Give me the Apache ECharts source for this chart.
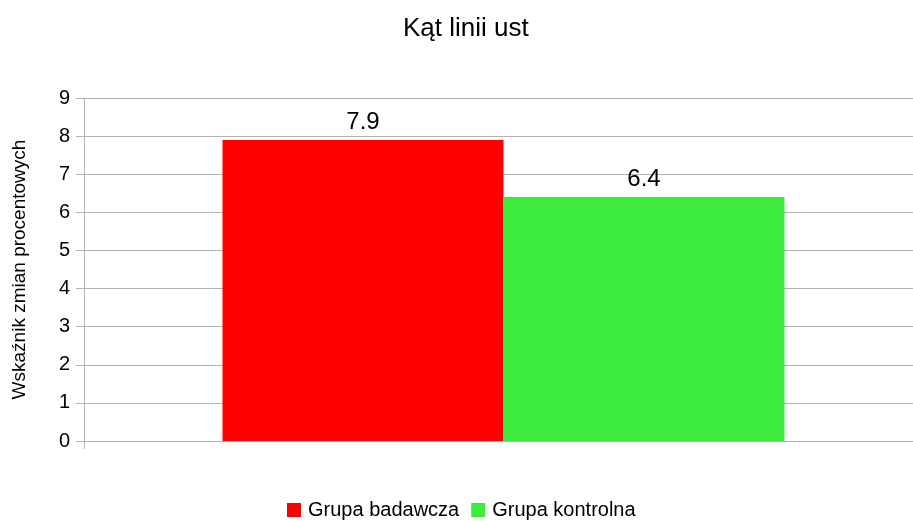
<!DOCTYPE html>
<html>
<head>
<meta charset="utf-8">
<script src="https://cdn.jsdelivr.net/npm/echarts@6/dist/echarts.min.js"></script>
<style>
html, body { margin: 0; padding: 0; background: #fff; }
#chart { width: 913px; height: 521px; }
</style>
</head>
<body>
<div id="chart"></div>
<script>
// dane wykresu
var categories = [''];
var seriesNames = ['Grupa badawcza', 'Grupa kontrolna'];
var badawcza = [7.9];
var kontrolna = [6.4];
var colors = ['#ff0000', '#3deb3d'];

var font = 'Liberation Sans, Arial, sans-serif';

var mychart = echarts.init(document.getElementById('chart'));

var option = {
    backgroundColor: '#ffffff',
    animation: false,
    title: {
        text: 'Kąt linii ust',
        left: 398,
        top: 11,
        textStyle: { fontFamily: font, fontSize: 26, fontWeight: 'normal', color: '#000' }
    },
    grid: { left: 84, right: -10, top: 98, bottom: 80, outerBoundsMode: 'none', containLabel: false },
    legend: {
        data: seriesNames,
        top: 500,
        left: 287,
        padding: 0,
        itemWidth: 14,
        itemHeight: 14,
        itemGap: 12,
        icon: 'rect',
        textStyle: { fontFamily: font, fontSize: 20, color: '#000', padding: [0, 0, 0, 2] }
    },
    xAxis: {
        type: 'category',
        data: categories,
        axisLine: { lineStyle: { color: '#b3b3b3' } },
        axisTick: { show: true, length: 8, lineStyle: { color: '#b3b3b3' } },
        axisLabel: { show: false }
    },
    yAxis: {
        type: 'value',
        min: 0,
        max: 9,
        interval: 1,
        name: 'Wskaźnik zmian procentowych',
        nameLocation: 'middle',
        nameGap: 55,
        nameTextStyle: { fontFamily: font, fontSize: 19, color: '#000' },
        axisLine: { show: true, lineStyle: { color: '#b3b3b3' } },
        axisTick: { show: true, length: 8, lineStyle: { color: '#b3b3b3' } },
        axisLabel: { fontFamily: font, fontSize: 20, color: '#000', margin: 14 },
        splitLine: { lineStyle: { color: '#b3b3b3' } }
    },
    series: [
        {
            name: seriesNames[0],
            type: 'bar',
            data: badawcza,
            barWidth: 281,
            barGap: '0%',
            itemStyle: { color: colors[0] },
            label: { show: true, position: 'top', distance: 6, fontFamily: font, fontSize: 24, color: '#000' }
        },
        {
            name: seriesNames[1],
            type: 'bar',
            data: kontrolna,
            barWidth: 281,
            barGap: '0%',
            itemStyle: { color: colors[1] },
            label: { show: true, position: 'top', distance: 6, fontFamily: font, fontSize: 24, color: '#000' }
        }
    ]
};

mychart.setOption(option);
</script>
</body>
</html>
